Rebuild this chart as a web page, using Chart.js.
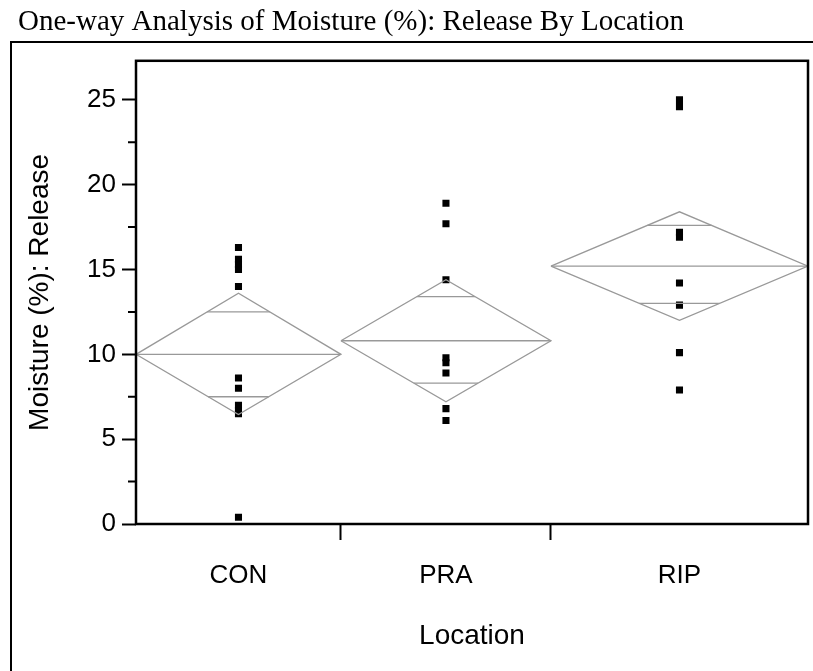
<!DOCTYPE html>
<html>
<head>
    <title>One-way Analysis of Moisture (%): Release By Location</title>
    <script src="https://cdn.jsdelivr.net/npm/chart.js"></script>
    <style>
        body { margin: 0; background: #fff; }
        #wrap { width: 813px; height: 671px; }
    </style>
</head>
<body>
    <div id="wrap"><canvas id="onewayChart"></canvas></div>

    <script>
        // groups along the x axis (widths, JMP sizes them by n)
        const categories = ['CON', 'PRA', 'RIP'];
        const groupEdges = [0, 12.2, 24.7, 40];

        // raw observations per location
        const conMoisture = [16.3, 15.6, 15.3, 15.0, 14.0, 8.6, 8.0, 7.0, 6.7, 6.5, 0.4];
        const praMoisture = [18.9, 17.7, 14.4, 9.8, 9.5, 8.9, 6.8, 6.1];
        const ripMoisture = [25.0, 24.6, 17.2, 16.9, 14.2, 12.9, 10.1, 7.9];

        // means diamonds: mean, 95% CI and overlap marks
        const groupMeans   = [10.0, 10.8, 15.2];
        const ciUpper      = [13.6, 14.4, 18.4];
        const ciLower      = [6.45, 7.2, 12.0];
        const overlapUpper = [12.5, 13.4, 17.6];
        const overlapLower = [7.5, 8.3, 13.0];

        // y axis ticks
        const yMajorTicks = [0, 5, 10, 15, 20, 25];
        const yMinorTicks = [2.5, 7.5, 12.5, 17.5, 22.5];
        const yMax = 27.3;

        const groupValues = [conMoisture, praMoisture, ripMoisture];
        const diamondColor = '#999999';

        function center(i) {
            return (groupEdges[i] + groupEdges[i + 1]) / 2;
        }

        function segment(pts) {
            return { data: pts, showLine: true, borderColor: diamondColor, borderWidth: 1.3, pointRadius: 0 };
        }

        var datasets = [];
        for (var i = 0; i < categories.length; i++) {
            var l = groupEdges[i], r = groupEdges[i + 1], m = center(i);
            var mean = groupMeans[i];
            var half = (r - l) / 2;

            // diamond outline + mean line
            datasets.push(segment([{x: l, y: mean}, {x: m, y: ciUpper[i]}, {x: r, y: mean}, {x: m, y: ciLower[i]}, {x: l, y: mean}]));
            datasets.push(segment([{x: l, y: mean}, {x: r, y: mean}]));
            // overlap marks, as wide as the diamond at that height
            var fu = 1 - (overlapUpper[i] - mean) / (ciUpper[i] - mean);
            var fl = 1 - (mean - overlapLower[i]) / (mean - ciLower[i]);
            datasets.push(segment([{x: m - half * fu, y: overlapUpper[i]}, {x: m + half * fu, y: overlapUpper[i]}]));
            datasets.push(segment([{x: m - half * fl, y: overlapLower[i]}, {x: m + half * fl, y: overlapLower[i]}]));
            // points
            datasets.push({
                data: groupValues[i].map(function (v) { return {x: m, y: v}; }),
                showLine: false, pointStyle: 'rect', pointRadius: 5,
                backgroundColor: '#000', borderColor: '#000', borderWidth: 0
            });
        }

        function isCenter(v) {
            for (var k = 0; k < categories.length; k++) {
                if (Math.abs(center(k) - v) < 1e-6) return k;
            }
            return -1;
        }

        const framePlugin = {
            id: 'frame',
            beforeDraw(chart) {
                const ctx = chart.ctx;
                ctx.save();
                ctx.fillStyle = '#fff';
                ctx.fillRect(0, 0, chart.width, chart.height);
                // outer report frame
                ctx.strokeStyle = '#000';
                ctx.lineWidth = 2;
                ctx.beginPath();
                ctx.moveTo(11, chart.height);
                ctx.lineTo(11, 42);
                ctx.lineTo(chart.width, 42);
                ctx.stroke();
                ctx.restore();
            },
            afterDraw(chart) {
                const ctx = chart.ctx, a = chart.chartArea, ys = chart.scales.y;
                ctx.save();
                ctx.strokeStyle = '#000';
                ctx.lineWidth = 2.5;
                ctx.strokeRect(a.left, a.top, a.right - a.left, a.bottom - a.top);
                ctx.lineWidth = 2;
                ctx.beginPath();
                yMinorTicks.forEach(function (v) {
                    var y = ys.getPixelForValue(v);
                    ctx.moveTo(a.left - 8, y);
                    ctx.lineTo(a.left, y);
                });
                ctx.stroke();
                ctx.restore();
            }
        };

        const sansFont = "'Liberation Sans', Arial, sans-serif";

        new Chart(document.getElementById('onewayChart').getContext('2d'), {
            type: 'scatter',
            data: { datasets: datasets },
            plugins: [framePlugin],
            options: {
                responsive: true,
                maintainAspectRatio: false,
                animation: false,
                layout: { padding: { left: 18, right: 3, top: 0, bottom: 0 } },
                plugins: {
                    legend: { display: false },
                    tooltip: { enabled: false },
                    title: {
                        display: true,
                        text: 'One-way Analysis of Moisture (%): Release By Location',
                        align: 'start',
                        color: '#000',
                        font: { family: "'Liberation Serif', 'Times New Roman', serif", size: 29, weight: 'normal' },
                        padding: { top: 4.5, bottom: 21.5 }
                    }
                },
                scales: {
                    x: {
                        type: 'linear',
                        min: groupEdges[0],
                        max: groupEdges[groupEdges.length - 1],
                        afterBuildTicks: function (scale) {
                            var t = [];
                            for (var k = 0; k < categories.length; k++) {
                                t.push({value: center(k)});
                                if (k < categories.length - 1) t.push({value: groupEdges[k + 1]});
                            }
                            scale.ticks = t;
                        },
                        afterFit: function (scale) { scale.height = 147; },
                        border: { display: false },
                        grid: {
                            drawOnChartArea: false,
                            tickLength: 16,
                            tickWidth: 2,
                            tickColor: function (c) {
                                return c.tick && isCenter(c.tick.value) >= 0 ? 'rgba(0,0,0,0)' : '#000';
                            }
                        },
                        ticks: {
                            color: '#000',
                            padding: 20,
                            maxRotation: 0,
                            autoSkip: false,
                            font: { family: sansFont, size: 26 },
                            callback: function (v) {
                                var k = isCenter(v);
                                return k >= 0 ? categories[k] : '';
                            }
                        },
                        title: {
                            display: true,
                            text: 'Location',
                            color: '#000',
                            font: { family: sansFont, size: 28 },
                            padding: { top: 0, bottom: 18 }
                        }
                    },
                    y: {
                        min: 0,
                        max: yMax,
                        afterBuildTicks: function (scale) {
                            scale.ticks = yMajorTicks.map(function (v) { return {value: v}; });
                        },
                        afterFit: function (scale) { scale.width = 118; },
                        border: { display: false },
                        grid: {
                            drawOnChartArea: false,
                            tickLength: 14,
                            tickWidth: 2,
                            tickColor: '#000'
                        },
                        ticks: {
                            color: '#000',
                            padding: 6,
                            font: { family: sansFont, size: 26 }
                        },
                        title: {
                            display: true,
                            text: 'Moisture (%): Release',
                            color: '#000',
                            font: { family: sansFont, size: 28 },
                            padding: { top: 5, bottom: 0 }
                        }
                    }
                }
            }
        });
    </script>
</body>
</html>
